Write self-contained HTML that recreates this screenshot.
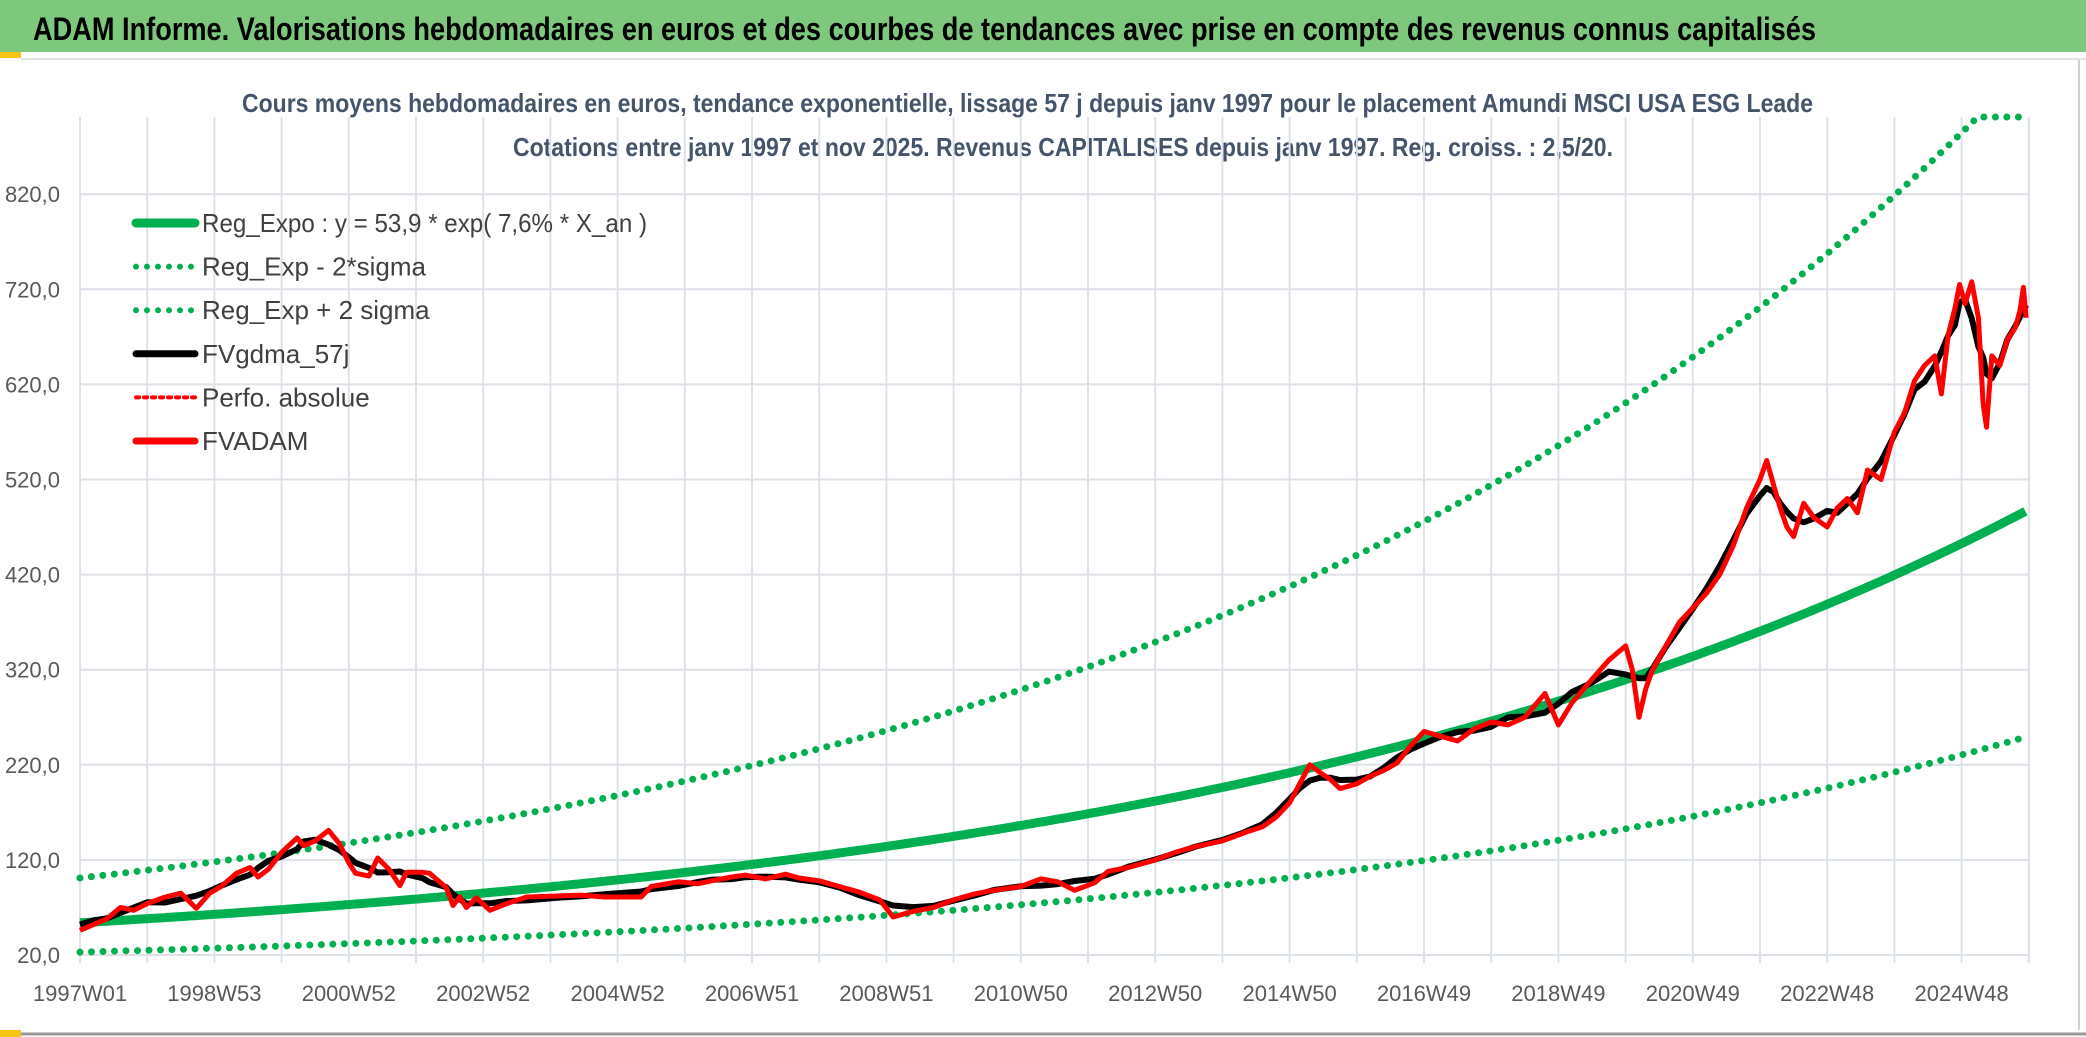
<!DOCTYPE html>
<html><head><meta charset="utf-8"><style>
html,body{margin:0;padding:0;background:#fff;}
svg{display:block;}
</style></head><body>
<svg id="chart" width="2086" height="1037" viewBox="0 0 2086 1037" xmlns="http://www.w3.org/2000/svg" font-family="Liberation Sans, sans-serif">
  <rect x="0" y="0" width="2086" height="52" fill="#7dc87c"/>
  <text x="33" y="40" font-size="32" font-weight="bold" fill="#000" textLength="1783" lengthAdjust="spacingAndGlyphs">ADAM Informe. Valorisations hebdomadaires en euros et des courbes de tendances avec prise en compte des revenus connus capitalisés</text>
  <rect x="0" y="52" width="21" height="6" fill="#f5c518"/>
  <line x1="21" y1="59" x2="2086" y2="59" stroke="#e3e3e3" stroke-width="2"/>
  <line x1="2079" y1="60" x2="2079" y2="1030" stroke="#d0d0d0" stroke-width="2"/>
  <line x1="0" y1="1034" x2="2086" y2="1034" stroke="#9a9a9a" stroke-width="3"/>
  <rect x="0" y="1030" width="21" height="7" fill="#f5c518"/>
  <text x="242" y="112" font-size="26" font-weight="bold" fill="#44546a" textLength="1571" lengthAdjust="spacingAndGlyphs">Cours moyens hebdomadaires en euros, tendance exponentielle, lissage 57 j depuis janv 1997 pour le placement Amundi MSCI USA ESG Leade</text>
  <text x="513" y="156" font-size="26" font-weight="bold" fill="#44546a" textLength="1100" lengthAdjust="spacingAndGlyphs">Cotations entre janv 1997 et nov 2025. Revenus CAPITALISES depuis janv 1997. Reg. croiss. : 2,5/20.</text>
  <g id="grid"></g>
  <g id="axes"></g>
  <defs><clipPath id="plotclip"><rect x="70" y="113" width="1970" height="850"/></clipPath></defs>
  <g id="series" clip-path="url(#plotclip)"></g>
  <g id="legend"></g>
</svg>
<script>
// ---- data ----
const yTicks = [20,120,220,320,420,520,620,720,820];
const yTickLabels = ["20,0","120,0","220,0","320,0","420,0","520,0","620,0","720,0","820,0"];
const xTickYears = [0,2,4,6,8,10,12,14,16,18,20,22,24,26,28];
const xTickLabels = ["1997W01","1998W53","2000W52","2002W52","2004W52","2006W51","2008W51","2010W50","2012W50","2014W50","2016W49","2018W49","2020W49","2022W48","2024W48"];
const regA = 53.9, regRate = 0.076;
const upperA = 101, upperRate = 0.0775;
const lowerA = 23, lowerRate = 0.0823;
const tEnd = 28.96;
const adamT = [0,0.2,0.4,0.6,0.8,1.0,1.27,1.5,1.73,1.93,2.1,2.33,2.53,2.65,2.8,3.0,3.23,3.33,3.5,3.7,3.86,4.0,4.1,4.3,4.43,4.6,4.76,4.86,5.1,5.2,5.45,5.55,5.65,5.75,5.9,6.1,6.35,6.65,7.1,7.45,7.8,8.35,8.5,8.9,9.2,9.4,9.7,9.9,10.2,10.5,10.7,11.0,11.3,11.6,11.9,12.1,12.4,12.7,13.0,13.3,13.6,14.0,14.3,14.55,14.8,15.1,15.3,15.6,16.0,16.3,16.6,17.0,17.3,17.6,17.8,18.0,18.15,18.3,18.45,18.6,18.75,19.0,19.2,19.4,19.6,19.8,20.0,20.25,20.5,20.75,21.0,21.25,21.5,21.8,22.0,22.2,22.5,22.75,23.0,23.1,23.2,23.3,23.4,23.6,23.8,24.0,24.2,24.4,24.6,24.8,25.0,25.1,25.2,25.3,25.4,25.5,25.65,25.8,26.0,26.15,26.3,26.45,26.6,26.8,27.0,27.15,27.3,27.45,27.6,27.7,27.8,27.9,27.97,28.05,28.15,28.25,28.32,28.37,28.45,28.57,28.68,28.8,28.87,28.92,28.96];
const adamV = [46,52,58,70,67,74,81,85,69,85,92,106,112,102,110,128,143,135,140,151,137,117,106,103,122,110,93,107,107,106,91,72,81,70,80,67,74,81,82,83,81,81,92,97,95,98,102,104,100,105,101,98,92,86,78,60,66,70,78,84,88,92,100,97,88,96,108,112,120,128,134,140,148,155,165,180,200,220,212,205,195,200,208,214,222,240,255,250,245,258,265,262,270,295,262,285,310,330,345,320,270,300,320,345,370,385,400,420,450,490,520,540,515,490,470,460,495,480,470,490,500,485,530,520,570,590,624,640,650,610,672,700,725,705,728,690,600,575,650,640,667,680,698,722,690];

// ---- axis functions ----
const X0 = 80, PXYR = 67.2, Y20 = 955, PXU = 0.951, PLOT_TOP = 117, X_RIGHT = 2029;
const xs = t => X0 + t * PXYR;
const ys = v => Y20 - (v - 20) * PXU;
const NS = "http://www.w3.org/2000/svg";
function mk(tag, attrs, parent){ const e=document.createElementNS(NS,tag); for(const k in attrs) e.setAttribute(k,attrs[k]); parent.appendChild(e); return e; }

const grid = document.getElementById('grid');
const axes = document.getElementById('axes');
const series = document.getElementById('series');
const legend = document.getElementById('legend');

for (let yr = 0; yr <= 29; yr++) {
  const x = xs(yr);
  if (x > X_RIGHT + 1) break;
  const l = mk('line',{x1:x,y1:PLOT_TOP,x2:x,y2:Y20+8,stroke:'#dde1e8','stroke-width':2},grid);
  
  
}
const rightEdge = mk('line',{x1:X_RIGHT,y1:PLOT_TOP,x2:X_RIGHT,y2:Y20+8,stroke:'#dde1e8','stroke-width':2},grid);


yTicks.forEach((v,i)=>{
  const y = ys(v);
  const l = mk('line',{x1:X0,y1:y,x2:X_RIGHT,y2:y,stroke:'#dde1e8','stroke-width':2},grid);
  
  
  const t = mk('text',{x:60,y:y+8,'font-size':22,fill:'#595959','text-anchor':'end'},axes);
  
  
  t.textContent = yTickLabels[i];
});
xTickYears.forEach((yr,i)=>{
  const t = mk('text',{x:xs(yr),y:1001,'font-size':22,fill:'#595959','text-anchor':'middle'},axes);
  
  
  t.textContent = xTickLabels[i];
});

function curve(fn){
  const pts=[];
  for(let t=0;t<=tEnd+0.0001;t+=0.05){ const v=Math.min(fn(t), 20+(Y20-PLOT_TOP)/PXU); pts.push(xs(t).toFixed(1)+','+ys(v).toFixed(1)); }
  return pts.join(' ');
}
const lowerLine = mk('polyline',{points:curve(t=>lowerA*Math.exp(lowerRate*t)),fill:'none',stroke:'#00b050','stroke-width':7,'stroke-linecap':'round','stroke-dasharray':'0 11.5'},series);


const upperLine = mk('polyline',{points:curve(t=>upperA*Math.exp(upperRate*t)),fill:'none',stroke:'#00b050','stroke-width':7,'stroke-linecap':'round','stroke-dasharray':'0 11.5'},series);


const regLine = mk('polyline',{points:curve(t=>regA*Math.exp(regRate*t)),fill:'none',stroke:'#00b050','stroke-width':9},series);



const smooth = adamV.map((v,i)=>{ let s=0,n=0; for(let k=-2;k<=2;k++){ if(adamV[i+k]!==undefined){s+=adamV[i+k];n++;} } return s/n; });
const blackLine = mk('polyline',{points:adamT.map((t,i)=>xs(t).toFixed(1)+','+ys(smooth[i]).toFixed(1)).join(' '),fill:'none',stroke:'#000','stroke-width':6,'stroke-linejoin':'round'},series);


const redLine = mk('polyline',{points:adamT.map((t,i)=>xs(t).toFixed(1)+','+ys(adamV[i]).toFixed(1)).join(' '),fill:'none',stroke:'#ff0000','stroke-width':5,'stroke-linejoin':'round'},series);



const legendItems = [
  {label:"Reg_Expo : y = 53,9 * exp( 7,6% *  X_an )", color:'#00b050', w:9, dash:null},
  {label:"Reg_Exp - 2*sigma", color:'#00b050', w:6, dash:'0 11'},
  {label:"Reg_Exp + 2 sigma", color:'#00b050', w:6, dash:'0 11'},
  {label:"FVgdma_57j", color:'#000', w:7, dash:null},
  {label:"Perfo. absolue", color:'#ff0000', w:4, dash:'3 5'},
  {label:"FVADAM", color:'#ff0000', w:7, dash:null}
];
legendItems.forEach((it,i)=>{
  const y = 223 + i*43.6;
  const a = {x1:136,y1:y,x2:195,y2:y,stroke:it.color,'stroke-width':it.w,'stroke-linecap':'round'};
  if(it.dash){a['stroke-dasharray']=it.dash;}
  const l = mk('line',a,legend);
  
  
  const t = mk('text',{x:202,y:y+9,'font-size':26,fill:'#404040'},legend);
  
  
  if(i===0){ t.setAttribute('textLength','445'); t.setAttribute('lengthAdjust','spacingAndGlyphs'); }
  t.textContent = it.label;
});
</script>
</body></html>
